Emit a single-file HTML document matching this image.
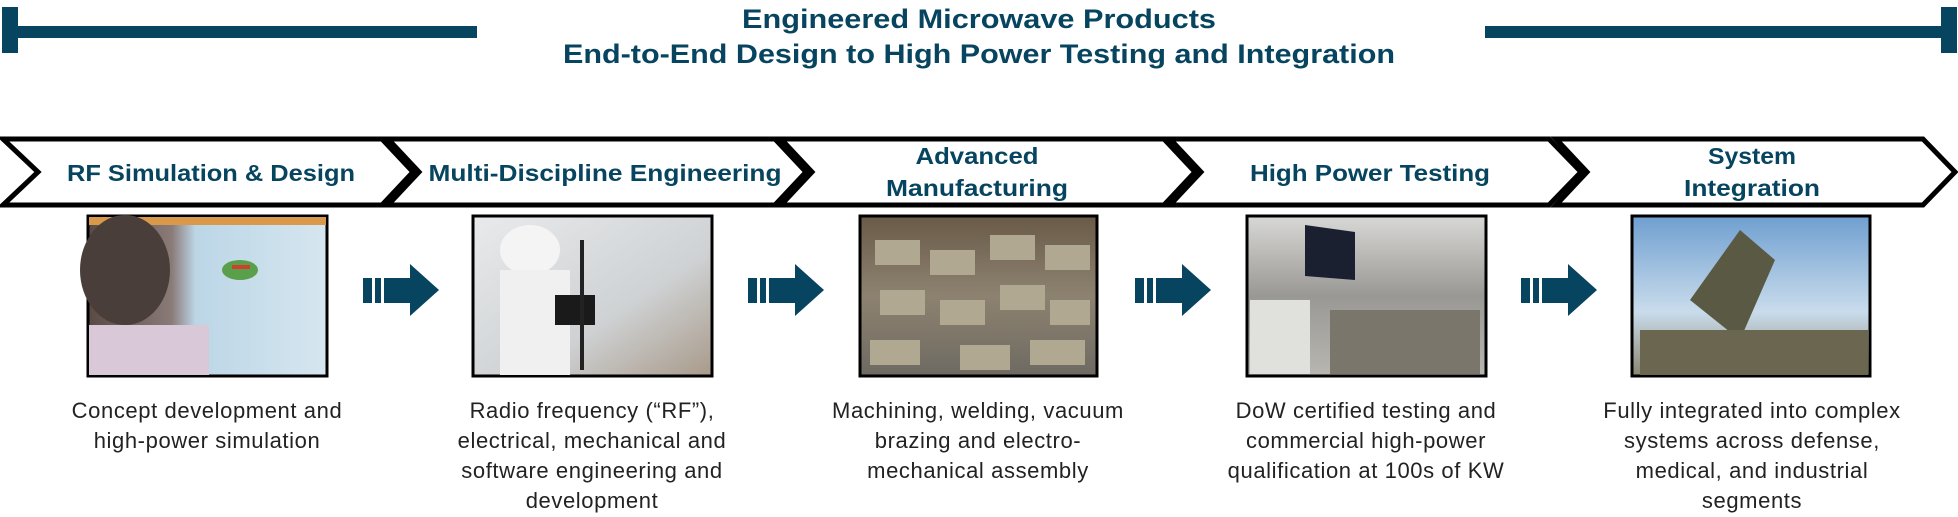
<!DOCTYPE html>
<html><head><meta charset="utf-8"><style>
html,body{margin:0;padding:0;background:#fff;}
svg{display:block;}
.t{font-family:"Liberation Sans",sans-serif;font-weight:bold;fill:#06445f;}
.d{font-family:"Liberation Sans",sans-serif;fill:#222;font-size:22px;letter-spacing:0.6px;}
</style></head><body>
<svg width="1958" height="517" viewBox="0 0 1958 517" xmlns="http://www.w3.org/2000/svg">
<defs>
<linearGradient id="g1" x1="0" y1="0" x2="1" y2="0"><stop offset="0" stop-color="#5a4a44"/><stop offset="0.35" stop-color="#8a7a78"/><stop offset="0.45" stop-color="#bcd6e6"/><stop offset="1" stop-color="#d6e6f0"/></linearGradient>
<linearGradient id="g2" x1="0" y1="0" x2="1" y2="1"><stop offset="0" stop-color="#e8eaec"/><stop offset="0.6" stop-color="#cfd2d4"/><stop offset="1" stop-color="#a89a8a"/></linearGradient>
<linearGradient id="g3" x1="0" y1="0" x2="0" y2="1"><stop offset="0" stop-color="#6a5a48"/><stop offset="0.5" stop-color="#8d8270"/><stop offset="1" stop-color="#6e6a62"/></linearGradient>
<linearGradient id="g4" x1="0" y1="0" x2="0" y2="1"><stop offset="0" stop-color="#d8d8d6"/><stop offset="0.5" stop-color="#9a9894"/><stop offset="1" stop-color="#b8b6b0"/></linearGradient>
<linearGradient id="g5" x1="0" y1="0" x2="0" y2="1"><stop offset="0" stop-color="#6f9fd0"/><stop offset="0.6" stop-color="#c9dcec"/><stop offset="1" stop-color="#8a8670"/></linearGradient>
</defs>
<rect x="2" y="7" width="16" height="46" fill="#06445f"/>
<rect x="2" y="26" width="475" height="12" fill="#06445f"/>
<rect x="1941" y="7" width="16" height="46" fill="#06445f"/>
<rect x="1485" y="26" width="470" height="12" fill="#06445f"/>
<text class="t" x="979" y="28" text-anchor="middle" font-size="27" textLength="474" lengthAdjust="spacingAndGlyphs">Engineered Microwave Products</text>
<text class="t" x="979" y="63" text-anchor="middle" font-size="27" textLength="832" lengthAdjust="spacingAndGlyphs">End-to-End Design to High Power Testing and Integration</text>
<g fill="#fff" stroke="#000" stroke-width="5" stroke-linejoin="miter">
<polygon points="3,139 382,139 413,172 382,205 3,205 38,172"/>
<polygon points="388,139 775,139 806,172 775,205 388,205 419,172"/>
<polygon points="781,139 1164,139 1195,172 1164,205 781,205 812,172"/>
<polygon points="1170,139 1549,139 1581,172 1549,205 1170,205 1201,172"/>
<polygon points="1556,139 1923,139 1955,172 1923,205 1556,205 1587,172"/>
</g>
<text class="t" x="211" y="181" text-anchor="middle" font-size="23" textLength="288" lengthAdjust="spacingAndGlyphs">RF Simulation &amp; Design</text>
<text class="t" x="605" y="181" text-anchor="middle" font-size="23" textLength="353" lengthAdjust="spacingAndGlyphs">Multi-Discipline Engineering</text>
<text class="t" x="977" y="164" text-anchor="middle" font-size="23" textLength="123" lengthAdjust="spacingAndGlyphs">Advanced</text>
<text class="t" x="977" y="196" text-anchor="middle" font-size="23" textLength="182" lengthAdjust="spacingAndGlyphs">Manufacturing</text>
<text class="t" x="1370" y="181" text-anchor="middle" font-size="23" textLength="240" lengthAdjust="spacingAndGlyphs">High Power Testing</text>
<text class="t" x="1752" y="164" text-anchor="middle" font-size="23" textLength="88" lengthAdjust="spacingAndGlyphs">System</text>
<text class="t" x="1752" y="196" text-anchor="middle" font-size="23" textLength="136" lengthAdjust="spacingAndGlyphs">Integration</text>
<g stroke="#000" stroke-width="3">
<rect x="88" y="216" width="239" height="160" fill="url(#g1)"/>
<rect x="473" y="216" width="239" height="160" fill="url(#g2)"/>
<rect x="860" y="216" width="237" height="160" fill="url(#g3)"/>
<rect x="1247" y="216" width="239" height="160" fill="url(#g4)"/>
<rect x="1632" y="216" width="238" height="160" fill="url(#g5)"/>
</g>
<rect x="89" y="217" width="237" height="8" fill="#d89a4a"/>
<ellipse cx="125" cy="270" rx="45" ry="55" fill="#4a3e3a"/>
<rect x="89" y="325" width="120" height="50" fill="#d8c8d8"/>
<ellipse cx="240" cy="270" rx="18" ry="10" fill="#5aa04a"/>
<rect x="232" y="265" width="18" height="4" fill="#d04030"/>
<ellipse cx="530" cy="250" rx="30" ry="25" fill="#f4f4f4"/>
<rect x="500" y="270" width="70" height="105" fill="#f0f0f0"/>
<rect x="555" y="295" width="40" height="30" fill="#1a1a1a"/>
<rect x="580" y="240" width="4" height="130" fill="#222"/>
<g fill="#b0a890">
<rect x="875" y="240" width="45" height="25"/><rect x="930" y="250" width="45" height="25"/><rect x="990" y="235" width="45" height="25"/><rect x="1045" y="245" width="45" height="25"/>
<rect x="880" y="290" width="45" height="25"/><rect x="940" y="300" width="45" height="25"/><rect x="1000" y="285" width="45" height="25"/><rect x="1050" y="300" width="40" height="25"/>
<rect x="870" y="340" width="50" height="25"/><rect x="960" y="345" width="50" height="25"/><rect x="1030" y="340" width="55" height="25"/>
</g>
<polygon points="1305,225 1355,232 1355,280 1305,276" fill="#1a2030"/>
<rect x="1250" y="300" width="60" height="74" fill="#e0e0dc"/>
<rect x="1330" y="310" width="150" height="64" fill="#7a766c"/>
<polygon points="1690,300 1740,230 1775,260 1740,340" fill="#5a5a44"/>
<rect x="1640" y="330" width="228" height="45" fill="#6a6650"/>
<g fill="#06445f">
<g id="a"><rect x="363" y="278" width="9" height="25"/><rect x="375" y="278" width="6" height="25"/><rect x="384" y="278" width="28" height="25"/><polygon points="410,264 439,290 410,316"/></g>
<use href="#a" x="385"/>
<use href="#a" x="772"/>
<use href="#a" x="1158"/>
</g>
<g class="d" text-anchor="middle">
<text x="207" y="418">Concept development and</text>
<text x="207" y="448">high-power simulation</text>
<text x="592" y="418">Radio frequency (“RF”),</text>
<text x="592" y="448">electrical, mechanical and</text>
<text x="592" y="478">software engineering and</text>
<text x="592" y="508">development</text>
<text x="978" y="418">Machining, welding, vacuum</text>
<text x="978" y="448">brazing and electro-</text>
<text x="978" y="478">mechanical assembly</text>
<text x="1366" y="418">DoW certified testing and</text>
<text x="1366" y="448">commercial high-power</text>
<text x="1366" y="478">qualification at 100s of KW</text>
<text x="1752" y="418">Fully integrated into complex</text>
<text x="1752" y="448">systems across defense,</text>
<text x="1752" y="478">medical, and industrial</text>
<text x="1752" y="508">segments</text>
</g>
</svg>
</body></html>
